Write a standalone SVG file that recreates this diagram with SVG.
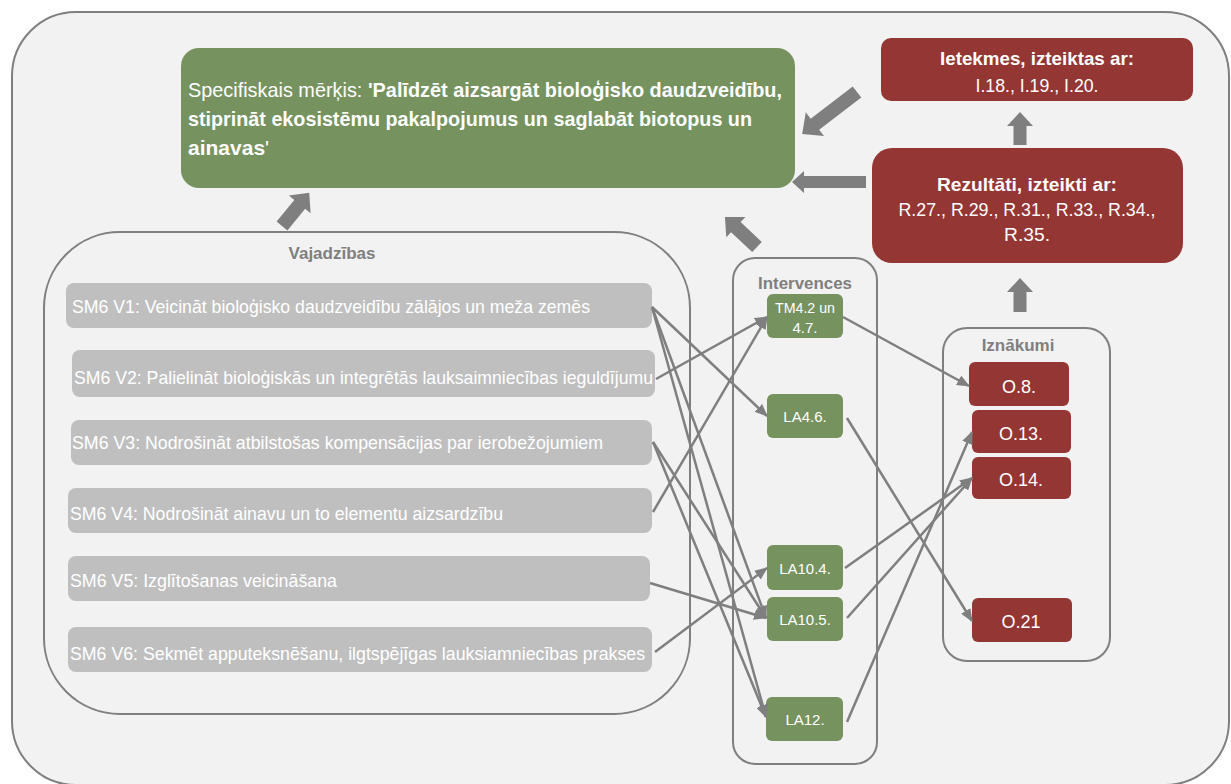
<svg xmlns="http://www.w3.org/2000/svg" width="1231" height="784" viewBox="0 0 1231 784">
<defs>
<marker id="ah" viewBox="0 0 12 10" refX="11" refY="5" markerWidth="13" markerHeight="11" markerUnits="userSpaceOnUse" orient="auto">
<path d="M0,0 L12,5 L0,10 Z" fill="#7f7f7f"/>
</marker>
</defs>
<style>
text{font-family:"Liberation Sans",Arial,sans-serif}
.cont{fill:#f2f2f2;stroke:#7f7f7f;stroke-width:2}
.ttl{fill:#7f7f7f;font-weight:bold;font-size:17px;text-anchor:middle}
.need rect{fill:#bfbfbf}
.need text{fill:#fff;font-size:19px}
.iv rect{fill:#76925f}
.iv text{fill:#fff;font-size:15px;text-anchor:middle}
.out rect{fill:#943634}
.out text{fill:#fff;font-size:18px;text-anchor:middle}
.red rect{fill:#943634}
.red text{fill:#fff;font-size:19px;text-anchor:middle}
.conn line{stroke:#7f7f7f;stroke-width:2.5;marker-end:url(#ah)}
.blk{fill:#7f7f7f}
</style>
<rect x="0" y="0" width="1231" height="784" fill="#ffffff"/>
<rect class="cont" x="12" y="12" width="1217" height="773" rx="64"/>

<g id="goal">
<rect x="181" y="48" width="614" height="140" rx="18" fill="#76925f"/>
<text x="188" y="97" font-size="21" fill="#fff" textLength="594" lengthAdjust="spacingAndGlyphs">Specifiskais  mērķis: <tspan font-weight="bold">'Palīdzēt aizsargāt  bioloģisko daudzveidību,</tspan></text>
<text x="188" y="126" font-size="21" fill="#fff" font-weight="bold" textLength="564" lengthAdjust="spacingAndGlyphs">stiprināt ekosistēmu  pakalpojumus un saglabāt biotopus un</text>
<text x="188" y="155" font-size="21" fill="#fff" font-weight="bold">ainavas<tspan font-weight="normal">'</tspan></text>
</g>

<g id="impacts" class="red">
<rect x="881" y="38" width="312" height="63" rx="10"/>
<text x="1037" y="65" font-weight="bold" textLength="194" lengthAdjust="spacingAndGlyphs">Ietekmes, izteiktas ar:</text>
<text x="1037" y="92" textLength="123" lengthAdjust="spacingAndGlyphs">I.18., I.19., I.20.</text>
</g>

<g id="results" class="red">
<rect x="872" y="148" width="311" height="115" rx="20"/>
<text x="1027" y="191" font-weight="bold" textLength="180" lengthAdjust="spacingAndGlyphs">Rezultāti, izteikti ar:</text>
<text x="1027" y="216" textLength="257" lengthAdjust="spacingAndGlyphs">R.27., R.29., R.31., R.33., R.34.,</text>
<text x="1027" y="241" textLength="46" lengthAdjust="spacingAndGlyphs">R.35.</text>
</g>

<g id="needs">
<rect class="cont" x="44" y="232" width="646" height="482" rx="76"/>
<text class="ttl" x="332" y="259">Vajadzības</text>
</g>
<g id="need-v1" class="need"><rect x="66" y="283" width="586" height="45" rx="8"/><text x="72" y="313" textLength="518" lengthAdjust="spacingAndGlyphs">SM6 V1: Veicināt bioloģisko daudzveidību zālājos un meža zemēs</text></g>
<g id="need-v2" class="need"><rect x="72" y="350" width="583" height="47" rx="8"/><text x="74" y="384" textLength="579" lengthAdjust="spacingAndGlyphs">SM6 V2: Palielināt bioloģiskās un integrētās lauksaimniecības ieguldījumu</text></g>
<g id="need-v3" class="need"><rect x="71" y="420" width="581" height="45" rx="8"/><text x="72" y="449" textLength="531" lengthAdjust="spacingAndGlyphs">SM6 V3: Nodrošināt atbilstošas kompensācijas par ierobežojumiem</text></g>
<g id="need-v4" class="need"><rect x="68" y="488" width="584" height="45" rx="8"/><text x="70" y="520" textLength="433" lengthAdjust="spacingAndGlyphs">SM6 V4: Nodrošināt ainavu un to elementu aizsardzību</text></g>
<g id="need-v5" class="need"><rect x="68" y="556" width="582" height="45" rx="8"/><text x="70" y="587" textLength="267" lengthAdjust="spacingAndGlyphs">SM6 V5: Izglītošanas veicināšana</text></g>
<g id="need-v6" class="need"><rect x="68" y="627" width="584" height="45" rx="8"/><text x="70" y="660" textLength="575" lengthAdjust="spacingAndGlyphs">SM6 V6: Sekmēt apputeksnēšanu, ilgtspējīgas lauksiamniecības prakses</text></g>

<g id="interventions">
<rect class="cont" x="733" y="258" width="144" height="506" rx="22"/>
<text class="ttl" x="805" y="289" font-size="16" textLength="94" lengthAdjust="spacingAndGlyphs">Intervences</text>
</g>
<g id="iv-tm42" class="iv"><rect x="767" y="294" width="76" height="44" rx="6"/><text x="805" y="313" textLength="60" lengthAdjust="spacingAndGlyphs">TM4.2 un</text><text x="805" y="333">4.7.</text></g>
<g id="iv-la46" class="iv"><rect x="767" y="394" width="76" height="44" rx="6"/><text x="805" y="422">LA4.6.</text></g>
<g id="iv-la104" class="iv"><rect x="767" y="545" width="76" height="45" rx="6"/><text x="805" y="574">LA10.4.</text></g>
<g id="iv-la105" class="iv"><rect x="767" y="597" width="76" height="44" rx="6"/><text x="805" y="625">LA10.5.</text></g>
<g id="iv-la12" class="iv"><rect x="766" y="697" width="77" height="44" rx="6"/><text x="805" y="725">LA12.</text></g>

<g id="outputs">
<rect class="cont" x="943" y="328" width="167" height="333" rx="24"/>
<text class="ttl" x="1018" y="351" font-size="16">Iznākumi</text>
</g>
<g id="out-o8" class="out"><rect x="969" y="362" width="100" height="44" rx="6"/><text x="1019" y="393">O.8.</text></g>
<g id="out-o13" class="out"><rect x="972" y="410" width="99" height="43" rx="6"/><text x="1021" y="440">O.13.</text></g>
<g id="out-o14" class="out"><rect x="972" y="457" width="99" height="42" rx="6"/><text x="1021" y="486">O.14.</text></g>
<g id="out-o21" class="out"><rect x="972" y="598" width="100" height="44" rx="6"/><text x="1021" y="628">O.21</text></g>

<g id="connectors" class="conn">
<line x1="652" y1="307" x2="767" y2="416"/>
<line x1="652" y1="307" x2="766" y2="618"/>
<line x1="652" y1="307" x2="766" y2="717"/>
<line x1="656" y1="379" x2="767" y2="317"/>
<line x1="653" y1="442" x2="766" y2="618"/>
<line x1="653" y1="442" x2="766" y2="717"/>
<line x1="653" y1="512" x2="767" y2="317"/>
<line x1="650" y1="583" x2="766" y2="618"/>
<line x1="655" y1="652" x2="767" y2="568"/>
<line x1="843" y1="317" x2="969" y2="386"/>
<line x1="847" y1="418" x2="972" y2="621"/>
<line x1="845" y1="568" x2="972" y2="478"/>
<line x1="847" y1="618" x2="972" y2="478"/>
<line x1="847" y1="722" x2="972" y2="432"/>
</g>

<g id="block-arrows" class="blk">
<polygon transform="translate(1020,145) rotate(-90)" points="0,-6.5 19,-6.5 19,-13 33,0 19,13 19,6.5 0,6.5"/>
<polygon transform="translate(1020,312) rotate(-90)" points="0,-6.5 20,-6.5 20,-13 34,0 20,13 20,6.5 0,6.5"/>
<polygon transform="translate(866,182) rotate(180)" points="0,-6 62,-6 62,-11 74,0 62,11 62,6 0,6"/>
<polygon transform="translate(857,92) rotate(142.6)" points="0,-7 53,-7 53,-15 69,0 53,15 53,7 0,7"/>
<polygon transform="translate(757,247) rotate(223.2)" points="0,-7 29,-7 29,-14 44,0 29,14 29,7 0,7"/>
<polygon transform="translate(282,226) rotate(-50.7)" points="0,-7 28,-7 28,-14 43,0 28,14 28,7 0,7"/>
</g>
</svg>
